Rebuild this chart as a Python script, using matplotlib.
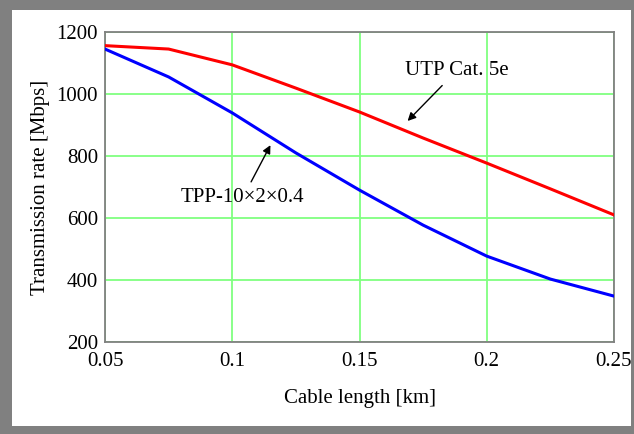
import matplotlib.pyplot as plt
from matplotlib.patches import Rectangle

plt.rcParams['font.family'] = ['Liberation Serif', 'DejaVu Serif']

# cable length [km]
length = [0.05, 0.075, 0.1, 0.125, 0.15, 0.175, 0.2, 0.225, 0.25]
# transmission rate [Mbps]
utp_cat5e = [1156, 1145, 1094, 1019, 942, 858, 777, 694, 610]
tpp = [1145, 1055, 939, 810, 690, 577, 477, 403, 348]

xticks = [0.05, 0.1, 0.15, 0.2, 0.25]
xtick_labels = ['0.05', '0.1', '0.15', '0.2', '0.25']
yticks = [200, 400, 600, 800, 1000, 1200]

W, H = 634, 434
fig = plt.figure(figsize=(W / 100, H / 100), dpi=100)
fig.patch.set_facecolor('#808080')
# white panel inside the grey frame
fig.add_artist(Rectangle((12 / W, 8 / H), (631 - 12) / W, (424 - 8) / H,
                         transform=fig.transFigure, facecolor='white',
                         edgecolor='none', zorder=0))

ax = fig.add_axes([105 / W, 1 - 342 / H, (614 - 105) / W, (342 - 32) / H])
ax.set_xlim(0.05, 0.25)
ax.set_ylim(200, 1200)

ax.plot(length, utp_cat5e, color='#ff0000', lw=2.2, zorder=3)
ax.plot(length, tpp, color='#0000ff', lw=2.2, zorder=3)

ax.set_xticks(xticks)
ax.set_xticklabels(xtick_labels)
ax.set_yticks(yticks)
ax.grid(True, color='#80ff80', lw=1.3, zorder=1)
ax.tick_params(length=0, labelsize=15)
ax.tick_params(axis='x', pad=7)
ax.tick_params(axis='y', pad=5)
for s in ax.spines.values():
    s.set_color('#808080')
    s.set_linewidth(1.3)

ax.set_xlabel('Cable length [km]', fontsize=15, labelpad=13)
ax.set_ylabel('Transmission rate [Mbps]', fontsize=15, labelpad=5)

ax.annotate('UTP Cat. 5e', xy=(0.1689, 913), xytext=(0.1884, 1077),
            fontsize=15, ha='center', va='center',
            arrowprops=dict(arrowstyle='-|>', color='black', lw=1.0,
                            mutation_scale=12, patchA=None,
                            shrinkA=15.5, shrinkB=0))
ax.annotate('TPP-10\u00d72\u00d70.4', xy=(0.115, 835), xytext=(0.1041, 665),
            fontsize=15, ha='center', va='center',
            arrowprops=dict(arrowstyle='-|>', color='black', lw=1.0,
                            mutation_scale=12, patchA=None,
                            shrinkA=13, shrinkB=0))

fig.savefig('out.png', dpi=100)
